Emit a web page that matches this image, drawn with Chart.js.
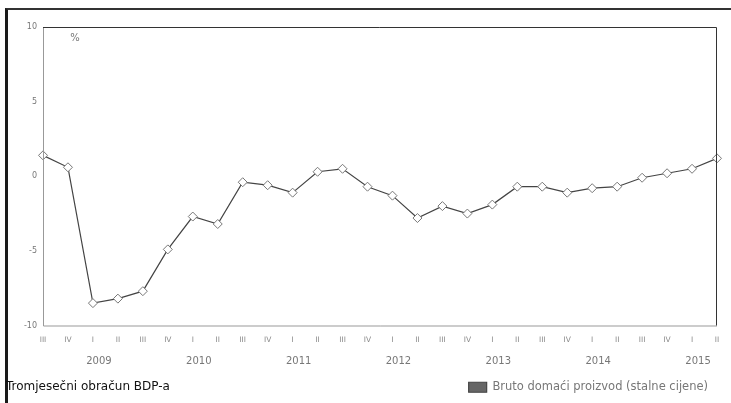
<!DOCTYPE html>
<html>
<head>
<meta charset="utf-8">
<script src="https://cdn.jsdelivr.net/npm/chart.js@4"></script>
<style>
  html, body { margin: 0; padding: 0; background: #fff; }
  #wrap { position: relative; width: 731px; height: 403px; overflow: hidden; }
  #frame { position: absolute; left: 5px; top: 8px; width: 723px; height: 400px;
           border-left: 3px solid #1a1a1a; border-top: 2px solid #333; border-right: 1px solid #bbb; }
  #title { position: absolute; left: 6px; top: 379px; font-family: "DejaVu Sans", sans-serif;
           font-size: 12px; color: #111; white-space: nowrap; }
  canvas { position: absolute; left: 0; top: 0; }
</style>
</head>
<body>
<div id="wrap">
  <canvas id="c" width="731" height="403"></canvas>
  <div id="frame"></div>
  <div id="title">Tromjesečni obračun BDP-a</div>
</div>
<script>
const quarters = ['III','IV','I','II','III','IV','I','II','III','IV','I','II','III','IV','I','II','III','IV','I','II','III','IV','I','II','III','IV','I','II'];
const years = ['2008','2008','2009','2009','2009','2009','2010','2010','2010','2010','2011','2011','2011','2011','2012','2012','2012','2012','2013','2013','2013','2013','2014','2014','2014','2014','2015','2015'];
const gdpValues = [1.4, 0.6, -8.5, -8.2, -7.7, -4.9, -2.7, -3.2, -0.4, -0.6, -1.1, 0.3, 0.5, -0.7, -1.3, -2.8, -2.0, -2.5, -1.9, -0.7, -0.7, -1.1, -0.8, -0.7, -0.1, 0.2, 0.5, 1.2];
const yTicks = [-10, -5, 0, 5, 10];
const seriesName = 'Bruto domaći proizvod (stalne cijene)';
const unitLabel = '%';

const framePlugin = {
  id: 'framePlugin',
  afterDraw(chart) {
    const {ctx, chartArea: a} = chart;
    ctx.save();
    ctx.lineWidth = 1;
    ctx.strokeStyle = '#999';
    ctx.beginPath();
    ctx.moveTo(a.left + 0.5, a.top); ctx.lineTo(a.left + 0.5, a.bottom + 0.5);
    ctx.lineTo(a.right, a.bottom + 0.5);
    ctx.stroke();
    ctx.strokeStyle = '#333';
    ctx.beginPath();
    ctx.moveTo(a.left, a.top + 0.5); ctx.lineTo(a.right - 0.5, a.top + 0.5);
    ctx.lineTo(a.right - 0.5, a.bottom);
    ctx.stroke();
    ctx.fillStyle = '#777';
    ctx.font = '10px "DejaVu Sans", sans-serif';
    ctx.textAlign = 'center';
    ctx.textBaseline = 'middle';
    ctx.fillText(unitLabel, a.left + 32, a.top + 11);
    ctx.restore();
  }
};

new Chart(document.getElementById('c'), {
  type: 'line',
  data: {
    labels: quarters,
    datasets: [{
      label: seriesName,
      data: gdpValues,
      borderColor: '#444',
      backgroundColor: '#666',
      borderWidth: 1.2,
      tension: 0,
      pointStyle: 'rectRot',
      pointRadius: 4.5,
      pointBorderWidth: 1,
      pointBorderColor: '#777',
      pointBackgroundColor: '#fff'
    }]
  },
  options: {
    responsive: false,
    devicePixelRatio: 1,
    animation: false,
    layout: { padding: { left: 0, top: 27, right: 14, bottom: 0 } },
    plugins: {
      legend: {
        position: 'bottom',
        align: 'end',
        labels: {
          boxWidth: 18, boxHeight: 10, padding: 9,
          color: '#777',
          font: { family: 'DejaVu Sans', size: 11.5 }
        }
      },
      tooltip: { enabled: false }
    },
    scales: {
      x: {
        grid: { display: false, drawTicks: false },
        border: { display: false },
        ticks: {
          autoSkip: false, maxRotation: 0, minRotation: 0, padding: 10,
          color: '#888', font: { family: 'DejaVu Sans', size: 7.5 }
        },
        afterFit(s) { s.height = 24; }
      },
      x2: {
        type: 'category',
        position: 'bottom',
        labels: quarters,
        grid: { display: false, drawTicks: false },
        border: { display: false },
        ticks: {
          autoSkip: false, maxRotation: 0, minRotation: 0, padding: 6, labelOffset: 6,
          color: '#777', font: { family: 'DejaVu Sans', size: 10 },
          callback(v, i) { return quarters[i] === 'I' ? years[i] : ''; }
        },
        afterFit(s) { s.height = 23; }
      },
      y: {
        min: -10, max: 10,
        afterBuildTicks(s) { s.ticks = yTicks.map(v => ({ value: v })); },
        grid: { display: false, drawTicks: false },
        border: { display: false },
        ticks: {
          padding: 6, color: '#777', font: { family: 'DejaVu Sans', size: 8 }
        },
        afterFit(s) { s.width = 43; }
      }
    }
  },
  plugins: [framePlugin]
});
</script>
</body>
</html>
